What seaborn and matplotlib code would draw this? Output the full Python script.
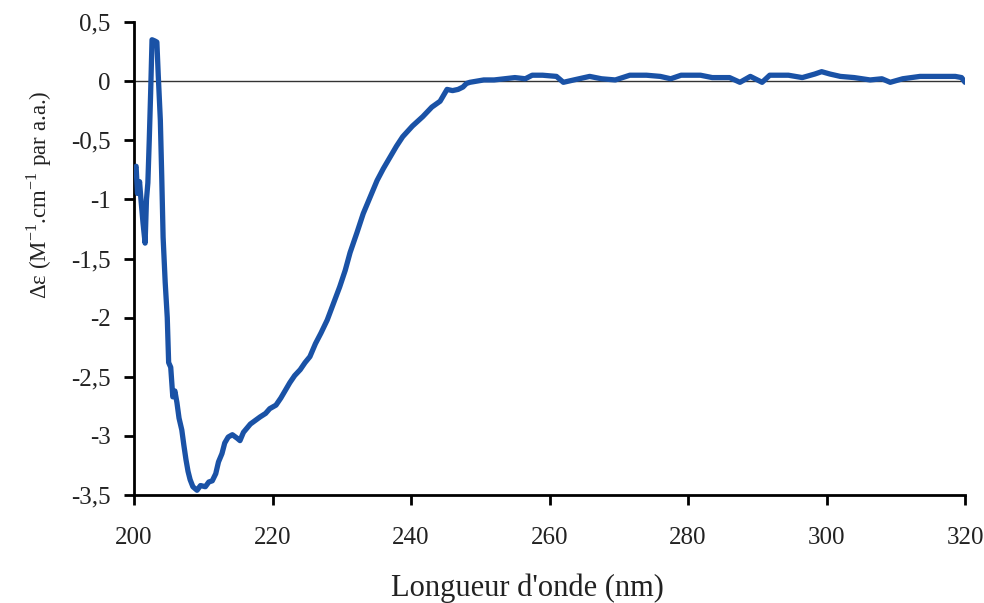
import matplotlib
matplotlib.use('Agg')
import matplotlib.pyplot as plt
import seaborn as sns
import pandas as pd

# Spectre de dichroïsme circulaire
longueur_onde = [
    200.0, 200.3, 200.5, 200.8, 201.0, 201.3, 201.6, 201.8, 202.0, 202.2,
    202.4, 202.6, 203.0, 203.3, 203.5, 203.8, 204.0, 204.2, 204.5, 204.8,
    205.0, 205.3, 205.6, 205.9, 206.2, 206.5, 206.9, 207.2, 207.5, 207.8,
    208.1, 208.5, 209.1, 209.6, 210.3, 210.8, 211.3, 211.8, 212.2, 212.7,
    213.1, 213.6, 214.2, 214.9, 215.3, 215.8, 216.8, 217.5, 218.2, 219.0,
    219.6, 220.5, 221.2, 222.0, 222.5, 223.2, 224.0, 224.7, 225.4, 226.2,
    227.0, 227.9, 228.8, 229.7, 230.5, 231.2, 232.2, 233.1, 234.1, 235.1,
    236.0, 237.0, 237.9, 238.8, 240.2, 241.7, 243.0, 244.2, 244.6, 245.2,
    246.0, 246.8, 247.5, 248.0, 248.5, 249.5, 250.5, 252.0, 253.5, 255.0,
    256.5, 257.5, 259.0, 261.0, 262.0, 263.5, 265.8, 267.5, 269.5, 271.6,
    274.0, 276.0, 277.5, 279.0, 281.8, 283.5, 286.0, 287.5, 289.0, 290.7,
    291.8, 294.5, 296.5, 298.3, 299.3, 300.5, 302.0, 304.0, 306.3, 308.0,
    309.2, 311.0, 313.5, 316.0, 318.6, 319.5, 320.0,
]
delta_eps = [
    -0.75, -0.72, -0.95, -0.85, -1.00, -1.20, -1.37, -1.00, -0.86, -0.50,
    -0.10, 0.35, 0.34, 0.33, 0.05, -0.33, -0.80, -1.32, -1.70, -2.00,
    -2.38, -2.42, -2.67, -2.62, -2.72, -2.85, -2.95, -3.08, -3.20, -3.30,
    -3.37, -3.43, -3.46, -3.42, -3.43, -3.39, -3.38, -3.32, -3.22, -3.15,
    -3.06, -3.01, -2.99, -3.02, -3.04, -2.97, -2.90, -2.87, -2.84, -2.81,
    -2.77, -2.74, -2.68, -2.60, -2.55, -2.49, -2.44, -2.38, -2.33, -2.22,
    -2.13, -2.02, -1.88, -1.74, -1.60, -1.45, -1.28, -1.12, -0.98, -0.84,
    -0.74, -0.64, -0.55, -0.47, -0.38, -0.30, -0.22, -0.17, -0.13, -0.07,
    -0.08, -0.07, -0.05, -0.02, -0.01, 0.00, 0.01, 0.01, 0.02, 0.03,
    0.02, 0.05, 0.05, 0.04, -0.01, 0.01, 0.04, 0.02, 0.01, 0.05,
    0.05, 0.04, 0.02, 0.05, 0.05, 0.03, 0.03, -0.01, 0.04, -0.01,
    0.05, 0.05, 0.03, 0.06, 0.08, 0.06, 0.04, 0.03, 0.01, 0.02,
    -0.01, 0.02, 0.04, 0.04, 0.04, 0.03, -0.01,
]

x_ticks = [200, 220, 240, 260, 280, 300, 320]
y_ticks = [0.5, 0, -0.5, -1, -1.5, -2, -2.5, -3, -3.5]
y_tick_labels = ['0,5', '0', '-0,5', '-1', '-1,5', '-2', '-2,5', '-3', '-3,5']

df = pd.DataFrame({'lambda': longueur_onde, 'de': delta_eps})

sns.set_theme(style='white')
plt.rcParams['font.family'] = ['Liberation Serif', 'DejaVu Serif']
plt.rcParams['mathtext.fontset'] = 'custom'
plt.rcParams['mathtext.rm'] = 'Liberation Serif'
plt.rcParams['axes.unicode_minus'] = False

fig = plt.figure(figsize=(9.84, 6.03), dpi=100)
ax = fig.add_axes([0.1362, 0.1791, 0.8445, 0.7844])

# ligne zéro
ax.axhline(0, color='#333333', linewidth=1.0, zorder=1)

sns.lineplot(data=df, x='lambda', y='de', ax=ax, estimator=None,
             color='#1a52a6', linewidth=3.8, zorder=3)

ax.set_xlim(200, 320)
ax.set_ylim(-3.5, 0.5)
ax.set_xticks(x_ticks)
ax.set_xticklabels([str(t) for t in x_ticks])
ax.set_yticks(y_ticks)
ax.set_yticklabels(y_tick_labels)

for side in ['top', 'right']:
    ax.spines[side].set_visible(False)
for side in ['left', 'bottom']:
    ax.spines[side].set_linewidth(2.0)
    ax.spines[side].set_color('black')

ax.tick_params(axis='both', direction='out', length=7, width=2.0,
               color='black', labelsize=18, labelcolor='#222222',
               bottom=True, left=True)
ax.tick_params(axis='y', pad=10)
ax.tick_params(axis='x', pad=16)

ax.set_xlabel("Longueur d'onde (nm)", fontsize=22, color='#222222')
ax.set_ylabel(r'Δε (M$^{\mathregular{-1}}$.cm$^{\mathregular{-1}}$ par a.a.)',
              fontsize=16.5, color='#222222')
ax.xaxis.set_label_coords(0.473, -0.197)
ax.xaxis.label.set_verticalalignment('center')
ax.yaxis.set_label_coords(-0.114, 0.634)
ax.yaxis.label.set_verticalalignment('center')

plt.savefig('out.png', dpi=100)
